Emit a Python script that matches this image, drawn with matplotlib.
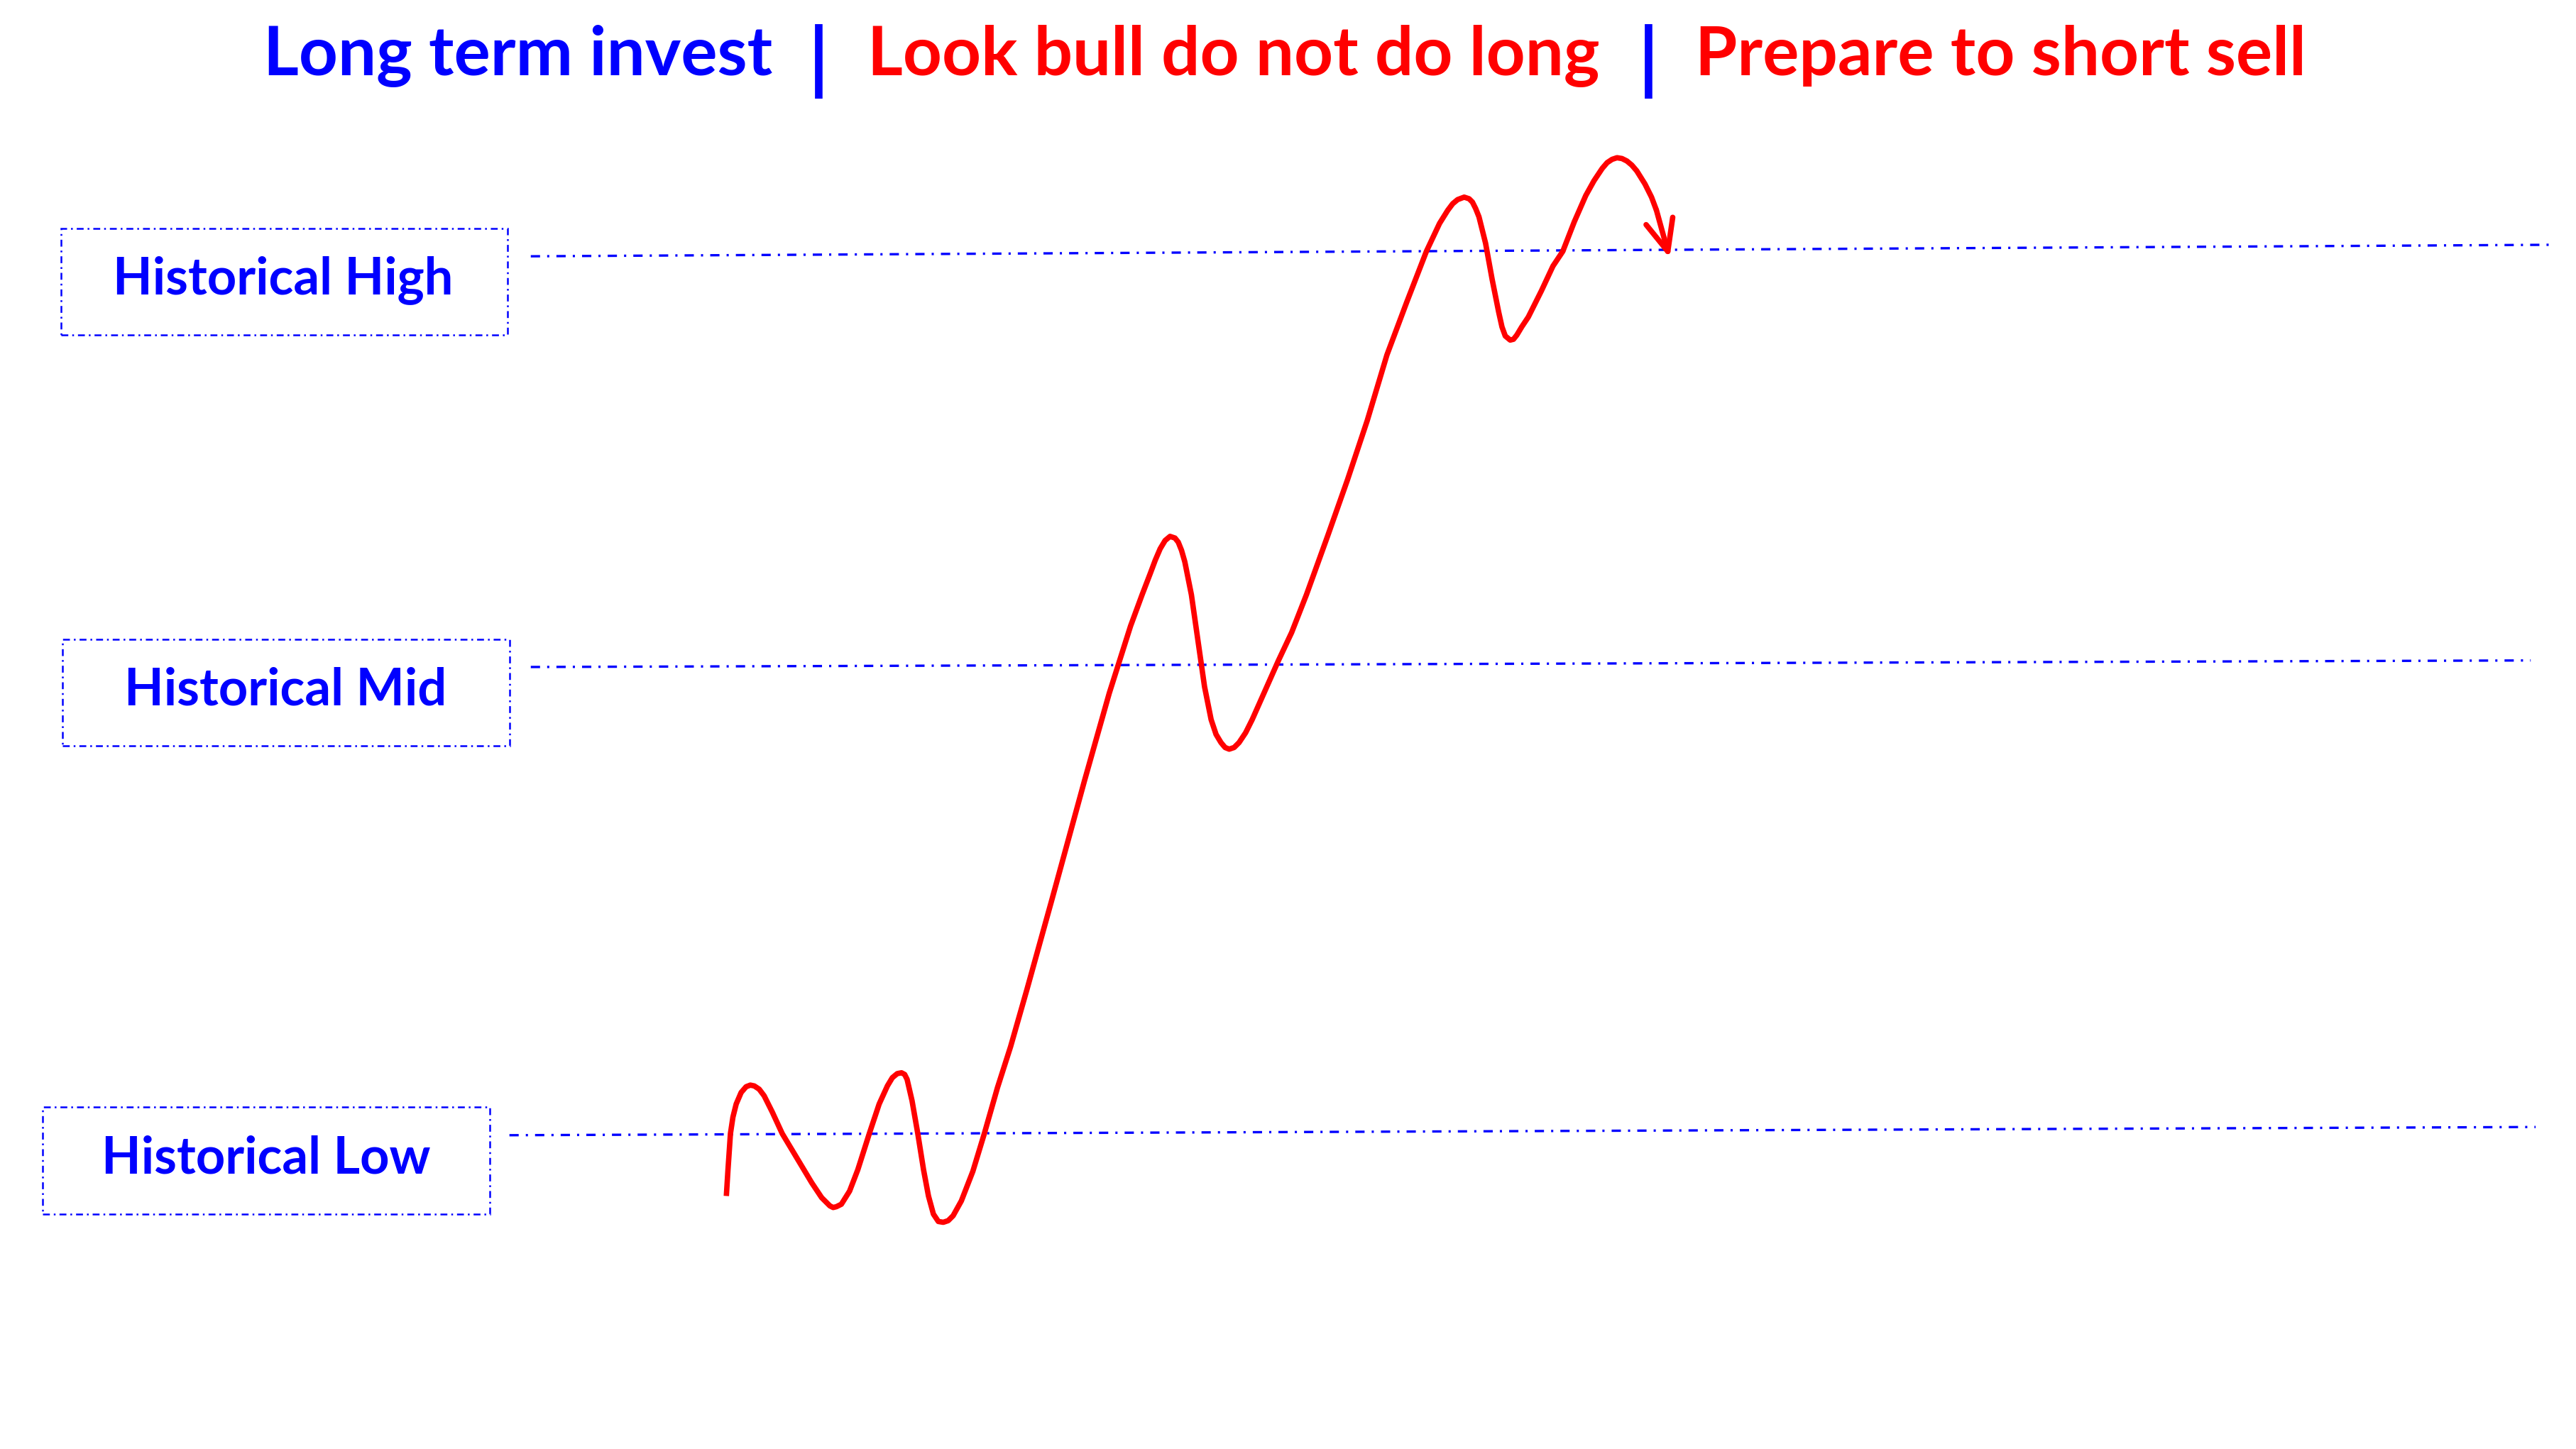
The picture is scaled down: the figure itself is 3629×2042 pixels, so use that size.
import matplotlib
matplotlib.use("Agg")
import matplotlib.pyplot as plt
from matplotlib.patches import Rectangle

plt.rcParams['font.family'] = ['Lato', 'DejaVu Sans']
plt.rcParams['lines.scale_dashes'] = False

BLUE = '#0000FF'
RED = '#FF0000'

# price path (time, price)
time = [442, 443, 444.5, 446, 448, 451, 454, 456.6, 459, 462, 465, 470, 476, 485, 494, 500, 503,
        505, 507, 509, 512, 517, 522, 529, 535, 540, 543, 546, 548.6, 550.5, 552, 555, 558.5, 562,
        565, 568, 571, 574, 577, 580, 585, 592, 599, 607, 615, 625, 640, 660, 675, 688, 695, 700,
        703, 706, 709, 712, 715, 717, 719, 721, 725, 729, 733, 737, 740, 743, 745.5, 748, 751, 754,
        758, 762, 770, 778, 786, 795, 808, 820, 832, 844, 856, 868, 876, 881, 884, 887, 891, 894,
        896, 898, 900, 904, 908, 912, 914, 916, 919, 921, 923, 926, 930, 938, 945, 951, 958, 965,
        970, 975, 978, 981, 984, 987, 990, 993, 996, 1001, 1005, 1008]
pixel_y = [728, 712, 690, 680, 672, 665, 661.5, 660.5, 661, 663, 667, 677, 690, 705, 720, 729, 732,
           734, 735, 734.5, 733, 725, 712, 690, 672, 661, 656, 653.5, 653, 654, 657, 670, 690, 712,
           728, 739, 743.5, 744, 743, 740, 731, 713, 690, 662, 637, 602, 548, 475, 422, 381, 362, 349,
           341, 334, 329, 326.5, 327.5, 330, 335, 342, 362, 390, 418, 438, 447, 452, 455, 456, 455, 452,
           446, 438, 420, 402, 385, 362, 326, 292, 256, 216, 184, 153, 136, 128, 124, 121.5, 120, 121,
           123, 127, 132, 148, 170, 190, 199, 204.5, 207, 206.5, 204, 199, 193, 177, 162, 153, 135, 119,
           110, 102.5, 99, 97, 96, 96.5, 98, 100.5, 104, 112, 120, 128]
price = [882 - v for v in pixel_y]
arrow_end = (1016, 882 - 157)

# historical levels: start/end time and price
level_names = ['Historical High', 'Historical Mid', 'Historical Low']
level_x0 = [323, 323, 310]
level_x1 = [1552, 1540, 1543]
level_y0 = [726, 476, 191]
level_y1 = [733, 480, 196]

# label boxes
box_x = [37, 38, 26]
box_w = [272, 272, 272]
box_y = [678, 428, 143]
box_h = [65, 65, 65]
label_x = [172, 173.5, 162]
label_y = [703, 453, 168]

title_parts = ['Long term invest', '|', 'Look bull do not do long', '|', 'Prepare to short sell']
title_colors = [BLUE, BLUE, RED, BLUE, RED]
title_x = [315, 498, 750.5, 1003, 1217.5]
title_y = 836

fig = plt.figure(figsize=(36.3, 20.42), dpi=100)
ax = fig.add_axes([0, 0, 1, 1])
ax.set_xlim(0, 1568)
ax.set_ylim(0, 882)
ax.axis('off')

level_style = (0, (9.4, 7.2, 2.2, 7.2))
box_style = (0, (7, 4, 1.8, 4))

for i in range(len(level_names)):
    ax.plot([level_x0[i], level_x1[i]], [level_y0[i], level_y1[i]], color=BLUE,
            linewidth=2.4, linestyle=level_style)
    ax.add_patch(Rectangle((box_x[i], box_y[i]), box_w[i], box_h[i], fill=False,
                           edgecolor=BLUE, linewidth=1.8, linestyle=box_style))
    ax.text(label_x[i], label_y[i], level_names[i], color=BLUE, fontsize=52,
            fontweight='bold', ha='center', va='baseline')

ax.plot(time, price, color=RED, linewidth=5.5, solid_capstyle='butt', solid_joinstyle='round')
ax.annotate('', xy=arrow_end, xytext=(time[-1], price[-1]),
            arrowprops=dict(arrowstyle='->,head_length=1.6,head_width=0.7', color=RED,
                            linewidth=5.5, shrinkA=0, shrinkB=0, mutation_scale=20))

for txt, col, x in zip(title_parts, title_colors, title_x):
    if txt == '|':
        ax.text(x, title_y - 6, txt, color=col, fontsize=80, fontweight='bold',
                ha='center', va='baseline')
    else:
        ax.text(x, title_y, txt, color=col, fontsize=69, fontweight='bold',
                ha='center', va='baseline')

fig.savefig('out.png', dpi=100, facecolor='white')
